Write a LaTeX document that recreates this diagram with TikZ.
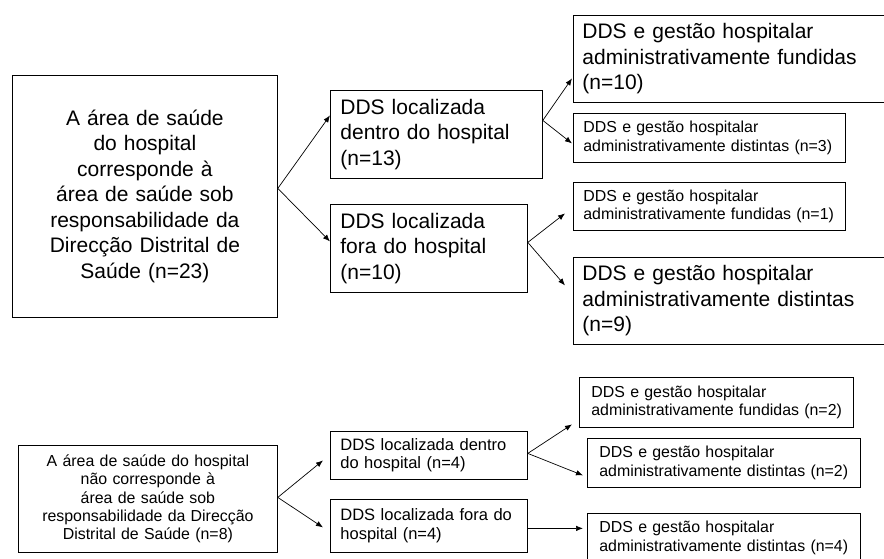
\documentclass[tikz,border=0pt]{standalone}
\usepackage{fontspec}
\setmainfont{Liberation Sans}
\usetikzlibrary{arrows.meta}

\begin{document}
\begin{tikzpicture}[x=1pt, y=-1pt,
    box/.style = {draw, line width=0.8pt, anchor=north west, inner ysep=0pt, align=left},
    big/.style = {box, font=\fontsize{21}{25.5}\selectfont},
    small/.style = {box, font=\fontsize{15.9}{18.3}\selectfont},
    arr/.style = {-{Latex[length=7pt, width=5.5pt]}, line width=0.7pt}]
    \clip (0,0) rectangle (884,558);

    % upper tree
    \node[big, align=center, inner xsep=4pt, text width=257pt, minimum height=242pt] (area1) at (12,75)
        {A área de saúde\\do hospital\\corresponde à\\área de saúde sob\\responsabilidade da\\Direcção Distrital de\\Saúde (n=23)};
    \node[big, inner xsep=10pt, text width=192pt, minimum height=88pt] (dentro1) at (330,90)
        {DDS localizada\\dentro do hospital\\(n=13)};
    \node[big, inner xsep=10pt, text width=177pt, minimum height=88pt] (fora1) at (330,204)
        {DDS localizada\\fora do hospital\\(n=10)};
    \node[big, inner xsep=9pt, text width=299pt, minimum height=87pt] (fund10) at (573,15)
        {DDS e gestão hospitalar\\administrativamente fundidas\\(n=10)};
    \node[small, inner xsep=10pt, text width=252pt, minimum height=49pt] (dist3) at (573,113)
        {DDS e gestão hospitalar\\\mbox{administrativamente distintas (n=3)}};
    \node[small, inner xsep=10pt, text width=252pt, minimum height=48pt] (fund1) at (573,182)
        {DDS e gestão hospitalar\\\mbox{administrativamente fundidas (n=1)}};
    \node[big, inner xsep=9pt, text width=299pt, minimum height=87pt] (dist9) at (573,257)
        {DDS e gestão hospitalar\\administrativamente distintas\\(n=9)};

    % lower tree
    \node[small, align=center, inner xsep=4pt, text width=251pt, minimum height=107pt] (area2) at (18,445)
        {A área de saúde do hospital\\não corresponde à\\área de saúde sob\\responsabilidade da Direcção\\Distrital de Saúde (n=8)};
    \node[small, font=\fontsize{16.5}{18.5}\selectfont, inner xsep=10pt, text width=177pt, minimum height=48pt] (dentro2) at (330,431)
        {DDS localizada dentro\\do hospital (n=4)};
    \node[small, font=\fontsize{16.5}{18.5}\selectfont, inner xsep=10pt, text width=177pt, minimum height=53pt] (fora2) at (330,499)
        {DDS localizada fora do\\hospital (n=4)};
    \node[small, inner xsep=12pt, text width=250pt, minimum height=50pt] (fund2) at (579,377)
        {DDS e gestão hospitalar\\\mbox{administrativamente fundidas (n=2)}};
    \node[small, inner xsep=12pt, text width=249pt, minimum height=49pt] (dist2) at (587,438)
        {DDS e gestão hospitalar\\\mbox{administrativamente distintas (n=2)}};
    \node[small, inner xsep=12pt, text width=249pt, minimum height=49pt] (dist4) at (587,513)
        {DDS e gestão hospitalar\\\mbox{administrativamente distintas (n=4)}};

    \draw[arr] ([yshift=8pt]area1.east) -- ([yshift=19pt]dentro1.west);
    \draw[arr] ([yshift=8pt]area1.east) -- ([yshift=7pt]fora1.west);
    \draw[arr] ([yshift=14pt]dentro1.east) -- ([xshift=-1pt, yshift=-19.5pt]fund10.west);
    \draw[arr] ([yshift=14pt]dentro1.east) -- ([xshift=-1pt, yshift=-5.5pt]dist3.west);
    \draw[arr] ([yshift=6pt]fora1.east) -- ([xshift=-8pt, yshift=-7pt]fund1.west);
    \draw[arr] ([yshift=6pt]fora1.east) -- ([xshift=-8pt, yshift=15.5pt]dist9.west);

    \draw[arr] ([yshift=1.5pt]area2.east) -- ([xshift=-7pt, yshift=-5pt]dentro2.west);
    \draw[arr] ([yshift=1.5pt]area2.east) -- ([xshift=-7pt, yshift=-1.5pt]fora2.west);
    \draw[arr] ([yshift=2pt]dentro2.east) -- ([xshift=-7pt, yshift=-22pt]fund2.west);
    \draw[arr] ([yshift=2pt]dentro2.east) -- ([xshift=-4pt, yshift=-12.5pt]dist2.west);
    \draw[arr] ([yshift=-2.5pt]fora2.east) -- ([xshift=-4pt, yshift=9.5pt]dist4.west);
\end{tikzpicture}
\end{document}
